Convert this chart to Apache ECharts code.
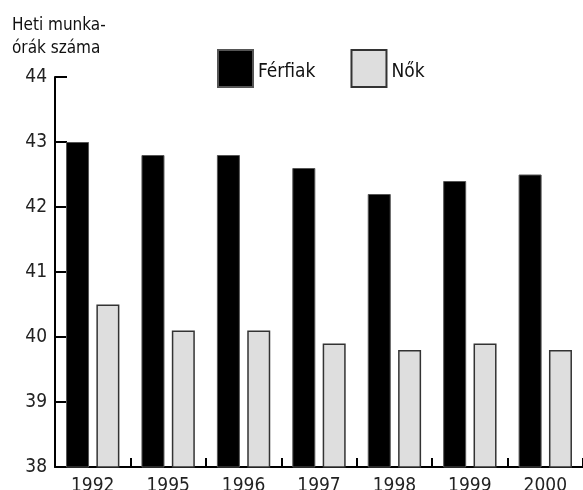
<!DOCTYPE html>
<html>
<head>
<meta charset="utf-8">
<script src="https://cdn.jsdelivr.net/npm/echarts@6/dist/echarts.min.js"></script>
<style>
  html, body { margin: 0; padding: 0; background: #fff; }
  #chart { width: 583px; height: 490px; }
</style>
</head>
<body>
<div id="chart"></div>
<script>
// Weekly working hours by sex
var years = ['1992', '1995', '1996', '1997', '1998', '1999', '2000'];
var ferfiak = [43.0, 42.8, 42.8, 42.6, 42.2, 42.4, 42.5];
var nok = [40.5, 40.1, 40.1, 39.9, 39.8, 39.9, 39.8];
var yTicks = [38, 39, 40, 41, 42, 43, 44];

var FONT = '"DejaVu Sans Condensed", "Liberation Sans Narrow", "Liberation Sans", sans-serif';

var chart = echarts.init(document.getElementById('chart'), null, { renderer: 'canvas' });

chart.setOption({
  animation: false,
  backgroundColor: '#ffffff',
  textStyle: { fontFamily: FONT },
  title: {
    text: 'Heti munka-\nórák száma',
    left: 12,
    top: 14,
    padding: 0,
    textStyle: { fontFamily: FONT, fontSize: 17, lineHeight: 23, fontWeight: 'normal', color: '#111' }
  },
  legend: {
    left: 217,
    top: 49,
    padding: 0,
    icon: 'rect',
    itemWidth: 35,
    itemHeight: 37,
    itemGap: 35,
    formatter: '{t|{name}}',
    textStyle: {
      fontFamily: FONT, fontSize: 19, color: '#111',
      rich: { t: { fontFamily: FONT, fontSize: 19, color: '#111', padding: [7, 0, 0, 0] } }
    },
    data: ['Férfiak', 'Nők']
  },
  grid: { left: 55, right: 0, top: 77, bottom: 23, containLabel: false, outerBoundsMode: 'none' },
  xAxis: {
    type: 'category',
    data: years,
    axisLine: { lineStyle: { color: '#000', width: 2 } },
    axisTick: { show: true, inside: true, length: 9, interval: 0, lineStyle: { color: '#000', width: 2 } },
    axisLabel: { fontFamily: FONT, fontSize: 19, color: '#222', margin: 10 },
    splitLine: { show: false }
  },
  yAxis: {
    type: 'value',
    min: yTicks[0],
    max: yTicks[yTicks.length - 1],
    interval: 1,
    axisLine: { show: true, lineStyle: { color: '#000', width: 2 } },
    axisTick: { show: true, inside: true, length: 12, lineStyle: { color: '#000', width: 2 } },
    axisLabel: { fontFamily: FONT, fontSize: 19, color: '#222', margin: 8 },
    splitLine: { show: false }
  },
  series: [
    {
      name: 'Férfiak',
      type: 'bar',
      data: ferfiak,
      barWidth: 23,
      barGap: '32%',
      itemStyle: { color: '#000', borderColor: '#555', borderWidth: 1 }
    },
    {
      name: 'Nők',
      type: 'bar',
      data: nok,
      barWidth: 23,
      barGap: '32%',
      itemStyle: { color: '#dedede', borderColor: '#333', borderWidth: 1.5 }
    }
  ]
});
</script>
</body>
</html>
